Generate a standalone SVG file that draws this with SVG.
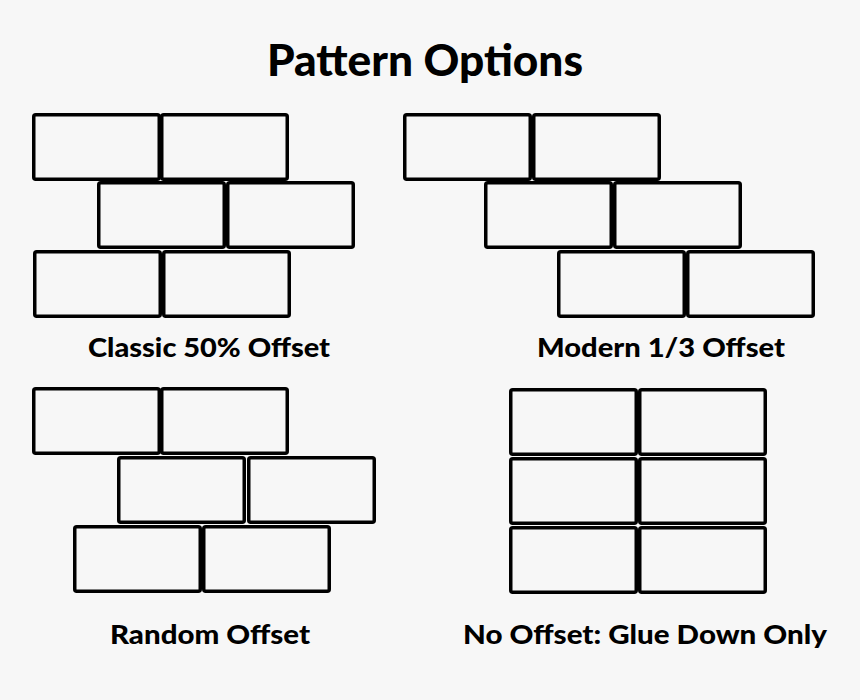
<svg xmlns="http://www.w3.org/2000/svg" xmlns:xlink="http://www.w3.org/1999/xlink" width="860" height="700" viewBox="0 0 860 700">
<style>
.brick{fill:#f7f7f7;stroke:#000;stroke-width:3.5;}
.t{font-family:Lato,"Open Sans","Liberation Sans",sans-serif;font-weight:900;fill:#000;text-anchor:middle;}
.title{font-size:43px;}
.lab{font-size:27px;}
</style>
<defs>
<rect id="b" class="brick" width="125.5" height="64.5" rx="2"/>
</defs>
<rect width="860" height="700" fill="#f7f7f7"/>
<text class="t title" x="425" y="76" textLength="316" lengthAdjust="spacingAndGlyphs">Pattern Options</text>
<g id="classic">
<use xlink:href="#b" x="33.75" y="114.75"/>
<use xlink:href="#b" x="161.75" y="114.75"/>
<use xlink:href="#b" x="98.75" y="182.75"/>
<use xlink:href="#b" x="227.75" y="182.75"/>
<use xlink:href="#b" x="34.75" y="251.75"/>
<use xlink:href="#b" x="163.75" y="251.75"/>
</g>
<g id="modern">
<use xlink:href="#b" x="404.75" y="114.75"/>
<use xlink:href="#b" x="533.75" y="114.75"/>
<use xlink:href="#b" x="485.75" y="182.75"/>
<use xlink:href="#b" x="614.75" y="182.75"/>
<use xlink:href="#b" x="558.75" y="251.75"/>
<use xlink:href="#b" x="687.75" y="251.75"/>
</g>
<g id="random">
<use xlink:href="#b" x="33.75" y="388.75"/>
<use xlink:href="#b" x="161.75" y="388.75"/>
<use xlink:href="#b" x="118.75" y="457.75"/>
<use xlink:href="#b" x="248.75" y="457.75"/>
<use xlink:href="#b" x="74.75" y="526.75"/>
<use xlink:href="#b" x="203.75" y="526.75"/>
</g>
<g id="nooffset">
<use xlink:href="#b" x="510.75" y="389.75"/>
<use xlink:href="#b" x="639.75" y="389.75"/>
<use xlink:href="#b" x="510.75" y="458.75"/>
<use xlink:href="#b" x="639.75" y="458.75"/>
<use xlink:href="#b" x="510.75" y="527.75"/>
<use xlink:href="#b" x="639.75" y="527.75"/>
</g>
<g id="labels">
<text class="t lab" x="209" y="357" textLength="242" lengthAdjust="spacingAndGlyphs">Classic 50% Offset</text>
<text class="t lab" x="661" y="357" textLength="248" lengthAdjust="spacingAndGlyphs">Modern 1/3 Offset</text>
<text class="t lab" x="210" y="644" textLength="200" lengthAdjust="spacingAndGlyphs">Random Offset</text>
<text class="t lab" x="645" y="644" textLength="364" lengthAdjust="spacingAndGlyphs">No Offset: Glue Down Only</text>
</g>
</svg>
